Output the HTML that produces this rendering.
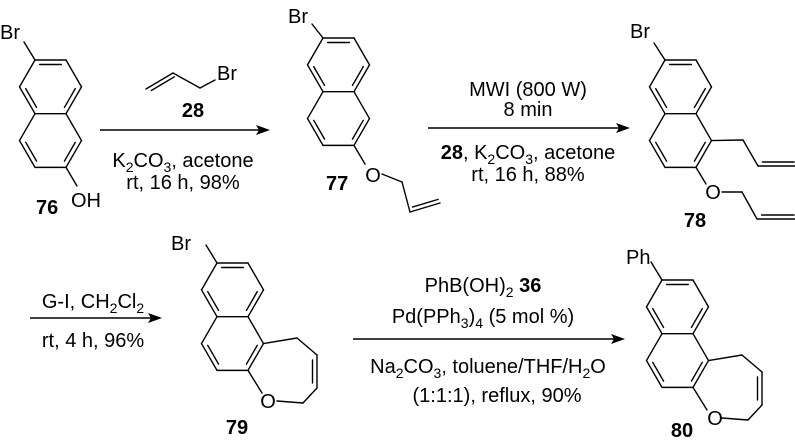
<!DOCTYPE html>
<html><head><meta charset="utf-8"><style>
html,body{margin:0;padding:0;background:#fff}
svg{display:block}
text{font-family:"Liberation Sans",Arial,sans-serif;font-size:20px;fill:#000}
.b{font-weight:bold}
</style></head><body>
<svg id="s" width="795" height="442" viewBox="0 0 795 442" xmlns="http://www.w3.org/2000/svg">
<g id="g" stroke="#000" stroke-width="1.4" fill="none" stroke-linecap="round" stroke-linejoin="round"></g>
<g stroke="#000" stroke-width="1.4">
<line x1="100" y1="130" x2="262" y2="130"/>
<line x1="428" y1="128" x2="622" y2="128"/>
<line x1="30" y1="318" x2="154" y2="318"/>
<line x1="353" y1="339" x2="617" y2="339"/>
</g>
<g fill="#000">
<polygon points="270,130 256,125 259,130 256,135"/>
<polygon points="630,128 616,123 619,128 616,133"/>
<polygon points="162,318 148,313 151,318 148,323"/>
<polygon points="625,339 611,334 614,339 611,344"/>
</g>
<text x="0" y="39">Br</text>
<text x="71" y="207">OH</text>
<text x="36" y="214" class="b">76</text>
<text x="288" y="23">Br</text>
<text x="373" y="182" text-anchor="middle">O</text>
<text x="326" y="190" class="b">77</text>
<text x="630" y="38">Br</text>
<text x="713" y="199" text-anchor="middle">O</text>
<text x="695" y="227" text-anchor="middle" class="b">78</text>
<text x="171" y="250">Br</text>
<text x="268" y="408" text-anchor="middle">O</text>
<text x="237" y="434" text-anchor="middle" class="b">79</text>
<text x="626" y="264">Ph</text>
<text x="715" y="425" text-anchor="middle">O</text>
<text x="682" y="437" text-anchor="middle" class="b">80</text>
<text x="217" y="80">Br</text>
<text x="193" y="117" text-anchor="middle" class="b">28</text>
<text x="183" y="167" text-anchor="middle">K<tspan dy="5" font-size="14">2</tspan><tspan dy="-5">CO</tspan><tspan dy="5" font-size="14">3</tspan><tspan dy="-5">, acetone</tspan></text>
<text x="183" y="189" text-anchor="middle">rt, 16 h, 98%</text>
<text x="528" y="96" text-anchor="middle">MWI (800 W)</text>
<text x="528" y="116" text-anchor="middle">8 min</text>
<text x="528" y="159" text-anchor="middle"><tspan class="b">28</tspan>, K<tspan dy="5" font-size="14">2</tspan><tspan dy="-5">CO</tspan><tspan dy="5" font-size="14">3</tspan><tspan dy="-5">, acetone</tspan></text>
<text x="528" y="181" text-anchor="middle">rt, 16 h, 88%</text>
<text x="93" y="308" text-anchor="middle">G-I, CH<tspan dy="5" font-size="14">2</tspan><tspan dy="-5">Cl</tspan><tspan dy="5" font-size="14">2</tspan></text>
<text x="93" y="347" text-anchor="middle">rt, 4 h, 96%</text>
<text x="483" y="292" text-anchor="middle">PhB(OH)<tspan dy="5" font-size="14">2</tspan><tspan dy="-5" class="b"> 36</tspan></text>
<text x="483" y="323" text-anchor="middle">Pd(PPh<tspan dy="5" font-size="14">3</tspan><tspan dy="-5">)</tspan><tspan dy="5" font-size="14">4</tspan><tspan dy="-5"> (5 mol %)</tspan></text>
<text x="488" y="373" text-anchor="middle">Na<tspan dy="5" font-size="14">2</tspan><tspan dy="-5">CO</tspan><tspan dy="5" font-size="14">3</tspan><tspan dy="-5">, toluene/THF/H</tspan><tspan dy="5" font-size="14">2</tspan><tspan dy="-5">O</tspan></text>
<text x="497" y="402" text-anchor="middle">(1:1:1), reflux, 90%</text>
</svg>
<script>
(function(){
var g=document.getElementById('g'),NS='http://www.w3.org/2000/svg';
function L(a,b,c,d){var l=document.createElementNS(NS,'line');l.setAttribute('x1',a);l.setAttribute('y1',b);l.setAttribute('x2',c);l.setAttribute('y2',d);g.appendChild(l);}
function P(pts){for(var i=0;i<pts.length-1;i++)L(pts[i][0],pts[i][1],pts[i+1][0],pts[i+1][1]);}
function inner(a,b,cx,cy){var mx=(a[0]+b[0])/2,my=(a[1]+b[1])/2,dx=cx-mx,dy=cy-my,d=Math.hypot(dx,dy),o=4.5;
 var ox=dx/d*o,oy=dy/d*o,k=0.15;
 L(a[0]+(b[0]-a[0])*k+ox,a[1]+(b[1]-a[1])*k+oy,b[0]-(b[0]-a[0])*k+ox,b[1]-(b[1]-a[1])*k+oy);}
function dbl(a,b,side){
 var dx=b[0]-a[0],dy=b[1]-a[1],d=Math.hypot(dx,dy),nx=-dy/d*side,ny=dx/d*side,k=0.12;
 L(a[0],a[1],b[0],b[1]);
 L(a[0]+dx*k+nx,a[1]+dy*k+ny,b[0]-dx*k*0.2+nx,b[1]-dy*k*0.2+ny);}
var s=31,h=s*Math.sqrt(3)/2;
function naph(tx,ty){
 var U=[[0,0],[s,0],[1.5*s,h],[s,2*h],[0,2*h],[-.5*s,h]].map(function(p){return[p[0]+tx,p[1]+ty]});
 var Q=U.map(function(p){return[p[0],p[1]+2*h]});
 P(U.concat([U[0]]));P([Q[1],Q[2],Q[3],Q[4],Q[5],Q[0]]);
 var cu=[tx+.5*s,ty+h],cl=[tx+.5*s,ty+3*h];
 inner(U[0],U[1],cu[0],cu[1]);inner(U[2],U[3],cu[0],cu[1]);inner(U[4],U[5],cu[0],cu[1]);
 inner(Q[2],Q[3],cl[0],cl[1]);inner(Q[4],Q[5],cl[0],cl[1]);
 return {U:U,Q:Q};}
var m=naph(35,60);L(35,60,24,42);L(m.Q[3][0],m.Q[3][1],77,186);
dbl([146,89],[173,73],4);P([[173,73],[200,88],[215,80]]);
m=naph(323,38);L(323,38,312,24);L(m.Q[3][0],m.Q[3][1],365,164);
P([[382,174],[402,182],[410,212]]);dbl([410,212],[440,203],-4);
m=naph(665,60);L(665,60,654,43);
P([m.Q[2],[743,140],[758,166]]);dbl([758,166],[795,166],-4);
L(m.Q[3][0],m.Q[3][1],706,184);P([[722,192],[742,192],[757,219]]);dbl([757,219],[795,219],-4);
function seven(tx,ty,sub){
 var m=naph(tx,ty);
 var R=m.Q[2];
 var a=[tx+80,ty+75],b=[tx+100,ty+92],c=[tx+100,ty+125],d=[tx+86,ty+140],o=[tx+60,ty+138];
 P([R,a,b,c]);L(b[0]-4.5,b[1]+5,c[0]-4.5,c[1]-5);P([c,d,o]);
 L(m.Q[3][0],m.Q[3][1],tx+45,ty+130);
 L(tx,ty,sub[0],sub[1]);}
seven(217,263,[206,245]);
seven(662,280,[651,262]);
})();
</script>
</body></html>
